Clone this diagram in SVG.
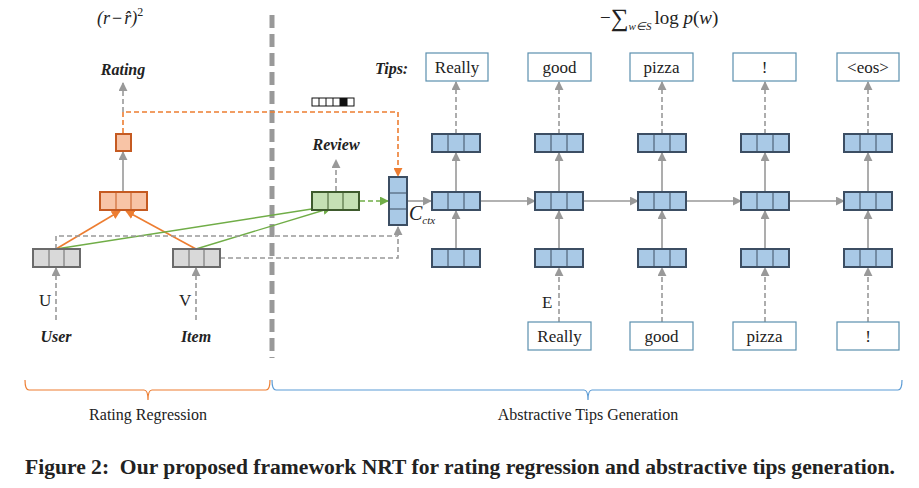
<svg xmlns="http://www.w3.org/2000/svg" width="919" height="488" viewBox="0 0 919 488" font-family="'Liberation Serif', serif">
<defs>
<marker id="ag" viewBox="0 0 10 10" refX="9" refY="5" markerWidth="9" markerHeight="9" markerUnits="userSpaceOnUse" orient="auto"><path d="M0,0 L10,5 L0,10 z" fill="#999"/></marker>
<marker id="ao" viewBox="0 0 10 10" refX="9" refY="5" markerWidth="9" markerHeight="9" markerUnits="userSpaceOnUse" orient="auto"><path d="M0,0 L10,5 L0,10 z" fill="#ed7d31"/></marker>
<marker id="agr" viewBox="0 0 10 10" refX="9" refY="5" markerWidth="9" markerHeight="9" markerUnits="userSpaceOnUse" orient="auto"><path d="M0,0 L10,5 L0,10 z" fill="#70ad47"/></marker>
</defs>
<style>
text{font-family:'Liberation Serif',serif;fill:#222}
.bi{font-weight:bold;font-style:italic;font-size:16px}
.w{font-size:17px;text-anchor:middle}
.g{fill:#d9d9d9;stroke:#6b6b6b;stroke-width:2}
.o{fill:#f8c4a6;stroke:#c55a21;stroke-width:2}
.b{fill:#a9c9e6;stroke:#3c4e63;stroke-width:2}
.gr{fill:#c5e0b4;stroke:#3e5a2d;stroke-width:2}
.cell{stroke-width:1;fill:none}
.wb{fill:#fff;stroke:#5b8fae;stroke-width:1.2}
.sol{stroke:#999;stroke-width:1.6;fill:none}
.dsh{stroke:#999;stroke-width:1.6;fill:none;stroke-dasharray:5 3}
</style>

<!-- divider -->
<line x1="272" y1="15" x2="272" y2="358" stroke="#999" stroke-width="5" stroke-dasharray="13 6"/>

<!-- formulas -->
<text x="97" y="24" font-size="18" font-style="italic">(r<tspan font-style="normal" dx="2">−</tspan><tspan dx="2">r̂</tspan>)<tspan font-style="normal" font-size="12" dy="-8">2</tspan></text>
<text x="600" y="24" font-size="19"><tspan>−</tspan><tspan font-size="25" dy="2">∑</tspan><tspan font-size="11" font-style="italic" dy="4">w∈S</tspan><tspan dy="-6" dx="3">log </tspan><tspan font-style="italic">p</tspan>(<tspan font-style="italic">w</tspan>)</text>

<!-- labels -->
<text class="bi" x="123" y="75" text-anchor="middle">Rating</text>
<text class="bi" x="336" y="150" text-anchor="middle">Review</text>
<text class="bi" x="56" y="342" text-anchor="middle">User</text>
<text class="bi" x="196" y="342" text-anchor="middle">Item</text>
<text class="bi" x="375" y="74">Tips:</text>
<text x="39" y="306" font-size="17">U</text>
<text x="179" y="306" font-size="17">V</text>
<text x="542" y="308" font-size="17">E</text>
<text x="409" y="220" font-size="20" font-style="italic">C<tspan font-size="11" dy="4">ctx</tspan></text>

<!-- connectors -->
<g id="connectors">
<path class="dsh" d="M123,112 V83" marker-end="url(#ag)"/>
<path d="M123,133 V112 H398 V176" fill="none" stroke="#ed7d31" stroke-width="1.6" stroke-dasharray="5 3" marker-end="url(#ao)"/>
<path class="sol" d="M123,191 V152" marker-end="url(#ag)"/>
<path d="M56,249 L120,211" stroke="#ed7d31" stroke-width="1.6" fill="none" marker-end="url(#ao)"/>
<path d="M196,249 L126,211" stroke="#ed7d31" stroke-width="1.6" fill="none" marker-end="url(#ao)"/>
<path d="M56,249 L331,206" stroke="#70ad47" stroke-width="1.4" fill="none" marker-end="url(#agr)"/>
<path d="M196,249 L331,208" stroke="#70ad47" stroke-width="1.4" fill="none" marker-end="url(#agr)"/>
<path class="dsh" d="M56,249 V236 H398"/>
<path class="dsh" d="M220,258 H398 V227" marker-end="url(#ag)"/>
<path class="dsh" d="M56,320 V268" marker-end="url(#ag)"/>
<path class="dsh" d="M196,320 V268" marker-end="url(#ag)"/>
<path class="dsh" d="M336,191 V160" marker-end="url(#ag)"/>
<path d="M360,201 H388" stroke="#70ad47" stroke-width="1.6" stroke-dasharray="5 3" fill="none" marker-end="url(#agr)"/>
<path class="sol" d="M407,201 H431" marker-end="url(#ag)"/>
<path class="sol" d="M481,201 H535" marker-end="url(#ag)"/>
<path class="sol" d="M584,201 H638" marker-end="url(#ag)"/>
<path class="sol" d="M687,201 H741" marker-end="url(#ag)"/>
<path class="sol" d="M790,201 H844" marker-end="url(#ag)"/>
<path class="sol" d="M456,249 V211" marker-end="url(#ag)"/>
<path class="sol" d="M559,249 V211" marker-end="url(#ag)"/>
<path class="sol" d="M662,249 V211" marker-end="url(#ag)"/>
<path class="sol" d="M765,249 V211" marker-end="url(#ag)"/>
<path class="sol" d="M868,249 V211" marker-end="url(#ag)"/>
<path class="sol" d="M456,192 V153" marker-end="url(#ag)"/>
<path class="sol" d="M559,192 V153" marker-end="url(#ag)"/>
<path class="sol" d="M662,192 V153" marker-end="url(#ag)"/>
<path class="sol" d="M765,192 V153" marker-end="url(#ag)"/>
<path class="sol" d="M868,192 V153" marker-end="url(#ag)"/>
<path class="dsh" d="M456,134 V82" marker-end="url(#ag)"/>
<path class="dsh" d="M559,134 V82" marker-end="url(#ag)"/>
<path class="dsh" d="M662,134 V82" marker-end="url(#ag)"/>
<path class="dsh" d="M765,134 V82" marker-end="url(#ag)"/>
<path class="dsh" d="M868,134 V82" marker-end="url(#ag)"/>
<path class="dsh" d="M559,322 V268" marker-end="url(#ag)"/>
<path class="dsh" d="M662,322 V268" marker-end="url(#ag)"/>
<path class="dsh" d="M765,322 V268" marker-end="url(#ag)"/>
<path class="dsh" d="M868,322 V268" marker-end="url(#ag)"/>
</g>

<!-- rating side -->
<g id="rating-out"><rect class="o" x="116" y="134" width="15" height="17"/></g>
<g id="rating-hidden"><rect class="o" x="100" y="192" width="47" height="18"/><path class="cell" stroke="#c55a21" d="M116,192 V210 M131,192 V210"/></g>
<g id="user-emb"><rect class="g" x="33" y="249" width="47" height="18"/><path class="cell" stroke="#6b6b6b" d="M49,249 V267 M64,249 V267"/></g>
<g id="item-emb"><rect class="g" x="173" y="249" width="47" height="18"/><path class="cell" stroke="#6b6b6b" d="M189,249 V267 M204,249 V267"/></g>

<!-- review -->
<g id="onehot"><rect x="312" y="98" width="42" height="8" fill="#fff" stroke="#111" stroke-width="1"/><path d="M319,98 V106 M326,98 V106 M333,98 V106 M340,98 V106 M347,98 V106" stroke="#111" stroke-width="1"/><rect x="340" y="98" width="7" height="8" fill="#111"/></g>
<g id="review"><rect class="gr" x="312" y="192" width="47" height="18"/><path class="cell" stroke="#3e5a2d" d="M328,192 V210 M343,192 V210"/></g>
<g id="cctx"><rect class="b" x="389" y="177" width="18" height="48"/><path class="cell" stroke="#3c4e63" d="M389,193 H407 M389,209 H407"/></g>

<!-- decoder columns -->
<g id="col1">
<rect class="b" x="432" y="134" width="48" height="18"/><path class="cell" stroke="#3c4e63" d="M448,134 V152 M464,134 V152"/>
<rect class="b" x="432" y="192" width="48" height="18"/><path class="cell" stroke="#3c4e63" d="M448,192 V210 M464,192 V210"/>
<rect class="b" x="432" y="249" width="48" height="18"/><path class="cell" stroke="#3c4e63" d="M448,249 V267 M464,249 V267"/>
<rect class="wb" x="426" y="53" width="62" height="28"/><text class="w" x="457" y="73">Really</text>
</g>
<g id="col2">
<rect class="b" x="535" y="134" width="48" height="18"/><path class="cell" stroke="#3c4e63" d="M551,134 V152 M567,134 V152"/>
<rect class="b" x="535" y="192" width="48" height="18"/><path class="cell" stroke="#3c4e63" d="M551,192 V210 M567,192 V210"/>
<rect class="b" x="535" y="249" width="48" height="18"/><path class="cell" stroke="#3c4e63" d="M551,249 V267 M567,249 V267"/>
<rect class="wb" x="528" y="53" width="63" height="28"/><text class="w" x="559.5" y="73">good</text>
<rect class="wb" x="528" y="322" width="63" height="28"/><text class="w" x="559.5" y="342">Really</text>
</g>
<g id="col3">
<rect class="b" x="638" y="134" width="48" height="18"/><path class="cell" stroke="#3c4e63" d="M654,134 V152 M670,134 V152"/>
<rect class="b" x="638" y="192" width="48" height="18"/><path class="cell" stroke="#3c4e63" d="M654,192 V210 M670,192 V210"/>
<rect class="b" x="638" y="249" width="48" height="18"/><path class="cell" stroke="#3c4e63" d="M654,249 V267 M670,249 V267"/>
<rect class="wb" x="630" y="53" width="63" height="28"/><text class="w" x="661.5" y="73">pizza</text>
<rect class="wb" x="630" y="322" width="63" height="28"/><text class="w" x="661.5" y="342">good</text>
</g>
<g id="col4">
<rect class="b" x="741" y="134" width="48" height="18"/><path class="cell" stroke="#3c4e63" d="M757,134 V152 M773,134 V152"/>
<rect class="b" x="741" y="192" width="48" height="18"/><path class="cell" stroke="#3c4e63" d="M757,192 V210 M773,192 V210"/>
<rect class="b" x="741" y="249" width="48" height="18"/><path class="cell" stroke="#3c4e63" d="M757,249 V267 M773,249 V267"/>
<rect class="wb" x="733" y="53" width="63" height="28"/><text class="w" x="764.5" y="73">!</text>
<rect class="wb" x="733" y="322" width="63" height="28"/><text class="w" x="764.5" y="342">pizza</text>
</g>
<g id="col5">
<rect class="b" x="844" y="134" width="48" height="18"/><path class="cell" stroke="#3c4e63" d="M860,134 V152 M876,134 V152"/>
<rect class="b" x="844" y="192" width="48" height="18"/><path class="cell" stroke="#3c4e63" d="M860,192 V210 M876,192 V210"/>
<rect class="b" x="844" y="249" width="48" height="18"/><path class="cell" stroke="#3c4e63" d="M860,249 V267 M876,249 V267"/>
<rect class="wb" x="837" y="53" width="62" height="28"/><text class="w" x="868" y="73">&lt;eos&gt;</text>
<rect class="wb" x="837" y="322" width="62" height="28"/><text class="w" x="868" y="342">!</text>
</g>

<!-- braces -->
<g id="brace-rating"><path d="M25,380 Q25,390 29,390 H144 Q148,390 148,400 Q148,390 152,390 H266 Q270,390 270,380" fill="none" stroke="#ed7d31" stroke-width="1.2"/>
<text x="148" y="420" font-size="16" text-anchor="middle">Rating Regression</text></g>
<g id="brace-tips"><path d="M272,380 Q272,390 276,390 H584 Q588,390 588,400 Q588,390 592,390 H898 Q902,390 902,380" fill="none" stroke="#5b9bd5" stroke-width="1.2"/>
<text x="588" y="420" font-size="16" text-anchor="middle">Abstractive Tips Generation</text></g>

<text x="25" y="474" font-size="20" font-weight="bold" textLength="870" lengthAdjust="spacingAndGlyphs" xml:space="preserve">Figure 2:  Our proposed framework NRT for rating regression and abstractive tips generation.</text>
</svg>
